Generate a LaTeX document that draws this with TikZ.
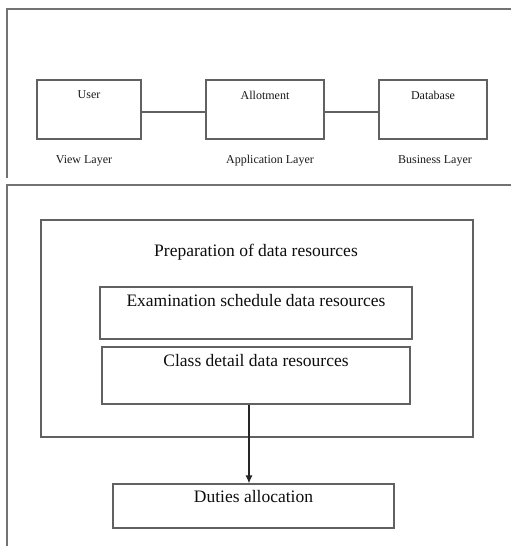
\documentclass[tikz,border=0pt]{standalone}
\usepackage{fontspec}
\setmainfont{Liberation Serif}
\usetikzlibrary{arrows.meta}
\begin{document}
\begin{tikzpicture}[x=1pt,y=-1pt,
  box/.style={draw=black!62,line width=1.3pt,minimum width=#1,inner sep=0pt},
  frame/.style={draw=black!55,line width=1.2pt},
  small/.style={font=\fontsize{12}{14}\selectfont,text=black!90,inner sep=0pt},
  big/.style={font=\fontsize{17.5}{20}\selectfont,text=black!95,inner sep=0pt},
  link/.style={draw=black!62,line width=1.2pt}]
\useasboundingbox (0,0) rectangle (511,546);
% panel frames
\draw[frame] (511,9) -- (7,9) -- (7,178);
\draw[frame] (511,185) -- (7,185) -- (7,546);
% top panel
\node[box=104pt,minimum height=59pt] (user) at (89,109.5) {};
\node[box=118pt,minimum height=59pt] (allot) at (265,109.5) {};
\node[box=108pt,minimum height=59pt] (db) at (433,109.5) {};
\node[small] (tuser) at (89,95) {User};
\node[small] (tallot) at (265,95) {Allotment};
\node[small] (tdb) at (433,95) {Database};
\draw[link] ([yshift=-2.5pt]user.east) -- ([yshift=-2.5pt]allot.west);
\draw[link] ([yshift=-2.5pt]allot.east) -- ([yshift=-2.5pt]db.west);
\node[small] (view) at (84,161) {View Layer};
\node[small] (app) at (270,161) {Application Layer};
\node[small] (bus) at (435,161) {Business Layer};
% bottom panel
\node[box=432pt,minimum height=217pt] (prep) at (257,328.5) {};
\node[big] (tprep) at (256,252) {Preparation of data resources};
\node[box=312pt,minimum height=52pt] (exam) at (256,313) {};
\node[big] (texam) at (256,301) {Examination schedule data resources};
\node[box=308pt,minimum height=57pt] (class) at (256,375.5) {};
\node[big] (tclass) at (256,361) {Class detail data resources};
\node[box=281pt,minimum height=44pt] (duties) at (253.5,506) {};
\node[big] (tduties) at (253.5,497) {Duties allocation};
\draw[draw=black!85,line width=1.1pt,-{Latex[length=8pt,width=7pt]}] ([xshift=-7pt]class.south) -- ([xshift=-4.5pt]duties.north);
\end{tikzpicture}
\end{document}
